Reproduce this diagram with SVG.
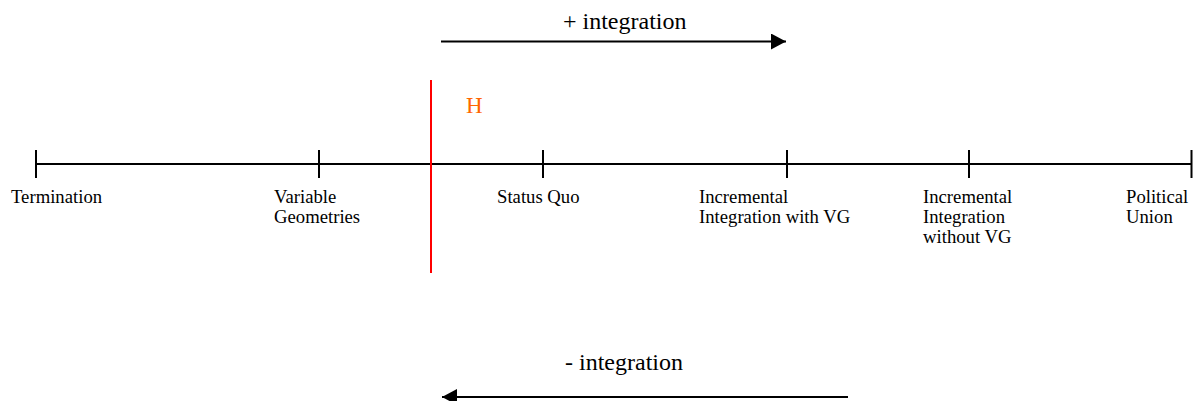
<svg xmlns="http://www.w3.org/2000/svg" width="1193" height="401" viewBox="0 0 1193 401">
<style>
.ln{stroke:#000;stroke-width:2;fill:none}
.lbl{font-family:"Liberation Serif","Times New Roman",serif;font-size:18.7px;fill:#000}
.big{font-family:"Liberation Serif","Times New Roman",serif;font-size:24px;fill:#000}
</style>
<defs>
<marker id="ah" markerWidth="16" markerHeight="16" refX="15" refY="8" orient="auto" markerUnits="userSpaceOnUse">
<path d="M0,0 L15,8 L0,16 Z" fill="#000"/>
</marker>
</defs>
<rect width="1193" height="401" fill="#fff"/>
<g id="connectors">
<line class="ln" x1="36" y1="164" x2="1192" y2="164"/>
<line class="ln" x1="441" y1="41.5" x2="786" y2="41.5" marker-end="url(#ah)"/>
<line class="ln" x1="848" y1="397" x2="442" y2="397" marker-end="url(#ah)"/>
<line x1="431" y1="80" x2="431" y2="273" stroke="#FF0000" stroke-width="2"/>
</g>
<g id="termination">
<line class="ln" x1="36" y1="150" x2="36" y2="178"/>
<text class="lbl" x="11" y="203">Termination</text>
</g>
<g id="variable-geometries">
<line class="ln" x1="319" y1="150" x2="319" y2="178"/>
<text class="lbl" x="274" y="203">Variable</text>
<text class="lbl" x="274" y="223">Geometries</text>
</g>
<g id="status-quo">
<line class="ln" x1="543" y1="150" x2="543" y2="178"/>
<text class="lbl" x="497" y="203">Status Quo</text>
</g>
<g id="incremental-with-vg">
<line class="ln" x1="787" y1="150" x2="787" y2="178"/>
<text class="lbl" x="699" y="203">Incremental</text>
<text class="lbl" x="699" y="223">Integration with VG</text>
</g>
<g id="incremental-without-vg">
<line class="ln" x1="969" y1="150" x2="969" y2="178"/>
<text class="lbl" x="923" y="203">Incremental</text>
<text class="lbl" x="923" y="223">Integration</text>
<text class="lbl" x="923" y="243">without VG</text>
</g>
<g id="political-union">
<line class="ln" x1="1191.5" y1="150" x2="1191.5" y2="178"/>
<text class="lbl" x="1126" y="203">Political</text>
<text class="lbl" x="1126" y="223">Union</text>
</g>
<g id="h-label">
<text x="466" y="113" font-family="Liberation Serif, Times New Roman, serif" font-size="23" fill="#FF6600">H</text>
</g>
<g id="plus-integration">
<text class="big" x="563" y="29">+ integration</text>
</g>
<g id="minus-integration">
<text class="big" x="565" y="370">- integration</text>
</g>
</svg>
